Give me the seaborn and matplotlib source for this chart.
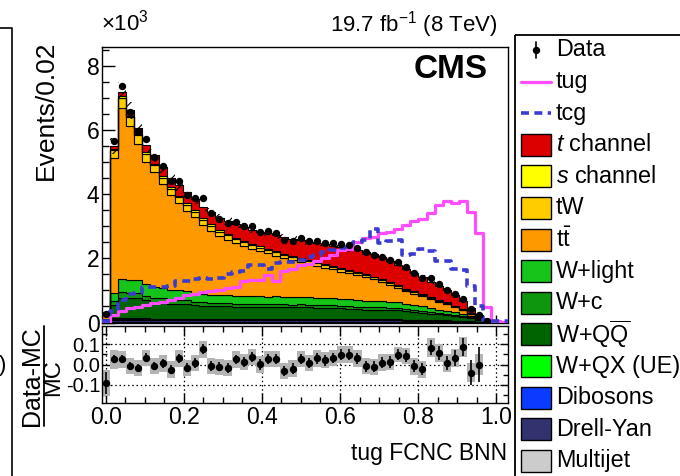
import numpy as np
import pandas as pd
import matplotlib
matplotlib.use("Agg")
import matplotlib.pyplot as plt
from matplotlib.patches import Rectangle
from matplotlib.ticker import MultipleLocator, FixedLocator, FormatStrFormatter
import seaborn as sns

# ---------------------------------------------------------------------------
# Binning of the BNN discriminant (50 bins over the frame range)
# ---------------------------------------------------------------------------
bin_lo, bin_hi, n_bins = -0.0104, 1.0296, 50
edges = np.linspace(bin_lo, bin_hi, n_bins + 1)
bin_edges = list(edges)
centers = 0.5 * (edges[:-1] + edges[1:])
bin_w = edges[1] - edges[0]

# ---------------------------------------------------------------------------
# Event yields per bin, in units of 10^3 events
# ---------------------------------------------------------------------------
t_channel = [0.01, 0.09, 0.14, 0.16, 0.19, 0.22, 0.26, 0.28, 0.30, 0.32,
             0.34, 0.35, 0.36, 0.37, 0.38, 0.40, 0.41, 0.43, 0.44, 0.46,
             0.48, 0.49, 0.51, 0.53, 0.55, 0.57, 0.59, 0.61, 0.63, 0.65,
             0.67, 0.69, 0.70, 0.70, 0.69, 0.67, 0.64, 0.61, 0.58, 0.54,
             0.48, 0.43, 0.39, 0.33, 0.25, 0.16, 0.07, 0.01, 0.0, 0.0]
s_channel = [0.005, 0.04, 0.05, 0.05, 0.05, 0.05, 0.05, 0.05, 0.05, 0.05,
             0.05, 0.05, 0.05, 0.05, 0.05, 0.05, 0.05, 0.05, 0.05, 0.05,
             0.04, 0.04, 0.04, 0.04, 0.04, 0.04, 0.04, 0.04, 0.04, 0.04,
             0.03, 0.03, 0.03, 0.03, 0.03, 0.03, 0.03, 0.03, 0.03, 0.02,
             0.02, 0.02, 0.02, 0.02, 0.01, 0.01, 0.005, 0.0, 0.0, 0.0]
tw = [0.01, 0.24, 0.31, 0.29, 0.26, 0.24, 0.22, 0.21, 0.20, 0.19,
      0.18, 0.17, 0.16, 0.15, 0.14, 0.13, 0.12, 0.12, 0.11, 0.11,
      0.10, 0.10, 0.09, 0.09, 0.09, 0.08, 0.08, 0.08, 0.07, 0.07,
      0.07, 0.06, 0.06, 0.06, 0.05, 0.05, 0.05, 0.04, 0.04, 0.04,
      0.03, 0.03, 0.03, 0.02, 0.02, 0.01, 0.005, 0.0, 0.0, 0.0]
ttbar = [0.155, 4.22, 5.33, 4.78, 4.26, 3.82, 3.57, 3.22, 2.94, 2.71,
         2.51, 2.37, 2.17, 2.00, 1.84, 1.74, 1.64, 1.54, 1.47, 1.40,
         1.35, 1.27, 1.22, 1.15, 1.08, 1.04, 1.00, 0.95, 0.91, 0.86,
         0.81, 0.79, 0.74, 0.67, 0.60, 0.54, 0.46, 0.39, 0.35, 0.33,
         0.29, 0.25, 0.22, 0.17, 0.11, 0.06, 0.03, 0.005, 0.001, 0.0]
w_light = [0.03, 0.27, 0.43, 0.41, 0.40, 0.36, 0.34, 0.33, 0.31, 0.30,
           0.29, 0.27, 0.25, 0.26, 0.26, 0.25, 0.25, 0.25, 0.24, 0.24,
           0.23, 0.24, 0.23, 0.23, 0.23, 0.23, 0.22, 0.22, 0.21, 0.21,
           0.21, 0.20, 0.19, 0.19, 0.19, 0.18, 0.18, 0.17, 0.16, 0.14,
           0.12, 0.11, 0.09, 0.09, 0.07, 0.05, 0.03, 0.004, 0.001, 0.0]
w_c = [0.015, 0.11, 0.17, 0.17, 0.17, 0.15, 0.14, 0.14, 0.13, 0.13,
       0.12, 0.11, 0.11, 0.10, 0.10, 0.10, 0.10, 0.10, 0.10, 0.10,
       0.10, 0.10, 0.10, 0.09, 0.10, 0.09, 0.09, 0.09, 0.09, 0.08,
       0.08, 0.08, 0.08, 0.08, 0.08, 0.07, 0.07, 0.07, 0.06, 0.06,
       0.05, 0.04, 0.04, 0.03, 0.03, 0.02, 0.01, 0.002, 0.001, 0.0]
w_qq = [0.05, 0.42, 0.64, 0.63, 0.62, 0.56, 0.52, 0.50, 0.47, 0.46,
        0.45, 0.42, 0.40, 0.39, 0.38, 0.38, 0.37, 0.37, 0.37, 0.36,
        0.36, 0.36, 0.35, 0.35, 0.35, 0.35, 0.34, 0.33, 0.33, 0.32,
        0.31, 0.30, 0.29, 0.29, 0.28, 0.27, 0.26, 0.26, 0.24, 0.21,
        0.19, 0.16, 0.15, 0.14, 0.11, 0.08, 0.05, 0.007, 0.002, 0.0]
w_qx = [0.005, 0.02, 0.02, 0.02, 0.02, 0.02, 0.02, 0.02, 0.02, 0.02,
        0.02, 0.02, 0.02, 0.02, 0.02, 0.02, 0.02, 0.02, 0.02, 0.02,
        0.02, 0.02, 0.02, 0.02, 0.02, 0.02, 0.02, 0.02, 0.02, 0.02,
        0.02, 0.02, 0.02, 0.02, 0.02, 0.02, 0.02, 0.015, 0.015, 0.015,
        0.015, 0.015, 0.015, 0.015, 0.015, 0.015, 0.007, 0.0, 0.0, 0.0]
dibosons = [0.005, 0.03, 0.03, 0.03, 0.03, 0.03, 0.03, 0.03, 0.03, 0.03,
            0.03, 0.03, 0.03, 0.03, 0.03, 0.03, 0.03, 0.03, 0.03, 0.03,
            0.03, 0.03, 0.03, 0.03, 0.03, 0.03, 0.03, 0.03, 0.03, 0.03,
            0.03, 0.025, 0.025, 0.025, 0.025, 0.025, 0.025, 0.025, 0.025, 0.025,
            0.025, 0.025, 0.025, 0.015, 0.015, 0.015, 0.008, 0.0, 0.0, 0.0]
drell_yan = [0.01, 0.05, 0.05, 0.05, 0.05, 0.05, 0.04, 0.04, 0.04, 0.04,
             0.04, 0.04, 0.04, 0.04, 0.04, 0.04, 0.04, 0.04, 0.04, 0.04,
             0.04, 0.04, 0.04, 0.04, 0.04, 0.04, 0.04, 0.04, 0.04, 0.04,
             0.04, 0.04, 0.04, 0.04, 0.04, 0.04, 0.04, 0.03, 0.03, 0.03,
             0.03, 0.03, 0.03, 0.02, 0.02, 0.02, 0.01, 0.002, 0.0, 0.0]
multijet = [0.005, 0.03, 0.03, 0.03, 0.03, 0.03, 0.03, 0.03, 0.03, 0.03,
            0.03, 0.03, 0.03, 0.03, 0.03, 0.03, 0.03, 0.03, 0.03, 0.03,
            0.03, 0.03, 0.03, 0.03, 0.03, 0.03, 0.03, 0.03, 0.03, 0.03,
            0.03, 0.03, 0.03, 0.03, 0.03, 0.03, 0.03, 0.02, 0.02, 0.02,
            0.02, 0.02, 0.01, 0.01, 0.01, 0.01, 0.005, 0.0, 0.0, 0.0]

# FCNC signal templates
tug = [0.03, 0.22, 0.37, 0.44, 0.49, 0.55, 0.60, 0.65, 0.70, 0.76,
       0.86, 0.90, 0.94, 0.98, 1.02, 1.08, 1.10, 1.30, 1.32, 1.34,
       1.48, 1.30, 1.62, 1.66, 1.80, 1.84, 1.92, 2.00, 2.12, 2.26,
       2.28, 2.52, 2.64, 2.68, 2.80, 2.84, 2.92, 3.05, 3.18, 3.22,
       3.42, 3.68, 3.80, 3.73, 3.78, 3.46, 2.80, 0.48, 0.04, 0.03]
tcg = [0.06, 0.35, 0.70, 0.88, 0.92, 1.10, 1.12, 1.10, 1.14, 1.28,
       1.30, 1.36, 1.38, 1.36, 1.40, 1.52, 1.58, 1.60, 1.78, 1.80,
       1.68, 1.86, 1.90, 1.88, 1.95, 2.05, 2.10, 2.20, 2.25, 2.32,
       2.46, 2.50, 2.58, 2.92, 2.48, 2.55, 2.58, 2.12, 2.14, 2.28,
       2.22, 1.93, 1.92, 1.68, 1.65, 1.13, 0.53, 0.08, 0.04, 0.04]

# Observed data
data = [0.273, 5.658, 7.380, 6.567, 5.983, 5.718, 5.178, 4.874, 4.407, 4.408,
        3.995, 3.891, 3.892, 3.412, 3.234, 3.119, 3.137, 3.019, 3.010, 2.840,
        2.852, 2.791, 2.572, 2.548, 2.627, 2.540, 2.554, 2.491, 2.479, 2.465,
        2.413, 2.333, 2.187, 2.112, 2.055, 1.950, 1.893, 1.730, 1.538, 1.397,
        1.375, 1.196, 1.028, 0.888, 0.718, 0.432, 0.230, 0.060, 0.0, 0.0]

# Relative uncertainty of the prediction and of the data/MC ratio
mc_rel_unc = [0.065, 0.045, 0.042, 0.040, 0.040, 0.040, 0.040, 0.040, 0.040, 0.040,
              0.040, 0.040, 0.042, 0.040, 0.040, 0.040, 0.040, 0.040, 0.040, 0.040,
              0.040, 0.040, 0.040, 0.040, 0.040, 0.040, 0.040, 0.040, 0.040, 0.040,
              0.040, 0.040, 0.040, 0.040, 0.040, 0.040, 0.038, 0.040, 0.042, 0.042,
              0.048, 0.045, 0.045, 0.045, 0.050, 0.045, 0.052, 0.060, 0.060, 0.060]
ratio_err = [0.055, 0.020, 0.020, 0.020, 0.020, 0.021, 0.021, 0.021, 0.022, 0.022,
             0.022, 0.023, 0.024, 0.023, 0.023, 0.024, 0.024, 0.024, 0.025, 0.025,
             0.025, 0.025, 0.025, 0.025, 0.025, 0.026, 0.026, 0.026, 0.026, 0.026,
             0.026, 0.026, 0.027, 0.027, 0.027, 0.028, 0.028, 0.029, 0.030, 0.031,
             0.036, 0.034, 0.036, 0.040, 0.045, 0.060, 0.085, 0.0, 0.0, 0.0]

# Processes, top of the stack first
processes = ["t channel", "s channel", "tW", "ttbar", "W+light", "W+c",
             "W+QQ", "W+QX (UE)", "Dibosons", "Drell-Yan", "Multijet"]
yields = [t_channel, s_channel, tw, ttbar, w_light, w_c,
          w_qq, w_qx, dibosons, drell_yan, multijet]
colors = ["#dd0000", "#ffff00", "#ffcc00", "#ff9900", "#16c41a", "#0f960f",
          "#006400", "#00ff00", "#0a3cff", "#32336e", "#cccccc"]
labels = [r"$\mathit{t}$ channel", r"$\mathit{s}$ channel", "tW",
          r"t$\mathrm{\bar{t}}$", "W+light", "W+c", r"W+Q$\mathrm{\overline{Q}}$",
          "W+QX (UE)", "Dibosons", "Drell-Yan", "Multijet"]
tug_color, tcg_color = "#ff4dff", "#3b3bd1"

# ---------------------------------------------------------------------------
# Style
# ---------------------------------------------------------------------------
sns.set_theme(style="ticks")
plt.rcParams.update({
    "font.family": ["Liberation Sans", "DejaVu Sans"],
    "mathtext.fontset": "custom",
    "mathtext.rm": "Liberation Sans",
    "mathtext.it": "Liberation Sans:italic",
    "mathtext.bf": "Liberation Sans:bold",
    "axes.edgecolor": "black",
    "text.color": "black",
    "xtick.color": "black",
    "ytick.color": "black",
    "hatch.linewidth": 0.8,
    "figure.facecolor": "white",
    "axes.facecolor": "white",
})

W, H = 680, 476
fig = plt.figure(figsize=(W / 100, H / 100), dpi=100)


def px_axes(x0, y0, x1, y1, **kw):
    """Axes placed by a pixel box measured from the top-left corner."""
    return fig.add_axes([x0 / W, 1 - y1 / H, (x1 - x0) / W, (y1 - y0) / H], **kw)


ax = px_axes(101.7, 47, 507.7, 322.5)
rax = px_axes(101.7, 326, 507.7, 403)

# ---------------------------------------------------------------------------
# Stacked background prediction
# ---------------------------------------------------------------------------
stack_df = pd.DataFrame({
    "x": np.tile(centers, len(processes)),
    "w": np.concatenate([np.asarray(y, float) for y in yields]),
    "process": np.repeat(processes, n_bins),
})
sns.histplot(data=stack_df, x="x", weights="w", hue="process",
             hue_order=processes, palette=dict(zip(processes, colors)),
             multiple="stack", bins=bin_edges, element="step", fill=True,
             alpha=1, edgecolor="black", linewidth=0.8, legend=False, ax=ax)

mc_total = np.sum([np.asarray(y, float) for y in yields], axis=0)
mc_unc = np.asarray(mc_rel_unc) * mc_total
lo = np.append(mc_total - mc_unc, (mc_total - mc_unc)[-1])
hi = np.append(mc_total + mc_unc, (mc_total + mc_unc)[-1])
ax.fill_between(edges, lo, hi, step="post", facecolor="none",
                edgecolor="black", hatch="//", linewidth=0, zorder=3)

# Signal templates
sns.histplot(x=centers, weights=tug, bins=bin_edges, element="step", fill=False,
             color=tug_color, linewidth=2.3, ax=ax, zorder=4)
sns.histplot(x=centers, weights=tcg, bins=bin_edges, element="step", fill=False,
             color=tcg_color, linewidth=2.6, linestyle=(0, (2.2, 1.5)),
             ax=ax, zorder=4)

# Data
data_arr = np.asarray(data)
has_data = data_arr > 0
data_stat = np.sqrt(data_arr * 1e3) / 1e3
ax.errorbar(centers[has_data], data_arr[has_data], yerr=data_stat[has_data],
            fmt="o", color="black", ms=4.3, elinewidth=1.2, capsize=0, zorder=6)

ax.set_xlim(bin_lo, bin_hi)
ax.set_ylim(0, 8.6)
ax.set_xlabel("")
ax.set_ylabel("")
ax.xaxis.set_major_locator(MultipleLocator(0.2))
ax.xaxis.set_minor_locator(MultipleLocator(0.05))
ax.yaxis.set_major_locator(MultipleLocator(2))
ax.yaxis.set_minor_locator(MultipleLocator(0.5))
ax.tick_params(axis="both", which="both", direction="in", top=False,
               right=False, labelbottom=False, width=1)
ax.tick_params(axis="y", which="major", length=9.5, labelsize=16.5, pad=1.5)
ax.tick_params(axis="y", which="minor", length=5)
ax.tick_params(axis="x", which="major", length=6)
ax.tick_params(axis="x", which="minor", length=3.5)
for s in ax.spines.values():
    s.set_linewidth(1.0)

# ---------------------------------------------------------------------------
# Ratio panel
# ---------------------------------------------------------------------------
shown = mc_total > 0.1
ratio = data_arr / np.where(mc_total > 0, mc_total, 1.0) - 1.0
rel = np.asarray(mc_rel_unc)
rax.bar(centers[shown], 2 * rel[shown], bottom=ratio[shown] - rel[shown],
        width=bin_w, color="#b4b4b4", linewidth=0, zorder=2)
rax.errorbar(centers[shown], ratio[shown], yerr=np.asarray(ratio_err)[shown],
             fmt="o", color="black", ms=4.3, elinewidth=1.2, capsize=0, zorder=4)

rax.set_xlim(bin_lo, bin_hi)
rax.set_ylim(-0.19, 0.19)
rax.xaxis.set_major_locator(MultipleLocator(0.2))
rax.xaxis.set_minor_locator(MultipleLocator(0.05))
rax.xaxis.set_major_formatter(FormatStrFormatter("%.1f"))
rax.yaxis.set_major_locator(FixedLocator([-0.1, 0.0, 0.1]))
rax.yaxis.set_minor_locator(MultipleLocator(0.05))
rax.yaxis.set_major_formatter(FormatStrFormatter("%.1f"))
rax.grid(True, which="major", color="black", linestyle=(0, (1.2, 2.2)),
         linewidth=0.9, zorder=1)
rax.tick_params(axis="both", which="both", direction="in", top=True,
                right=True, width=1)
rax.tick_params(axis="x", which="major", length=7, labelsize=16.5, pad=2)
rax.tick_params(axis="x", which="minor", length=4)
rax.tick_params(axis="y", which="major", length=6, labelsize=14.5, pad=1.0)
rax.tick_params(axis="y", which="minor", length=3.5)
for s in rax.spines.values():
    s.set_linewidth(1.0)

# ---------------------------------------------------------------------------
# Titles and axis labels
# ---------------------------------------------------------------------------
def ftext(x, y, s, **kw):
    fig.text(x / W, 1 - y / H, s, **kw)


ftext(46, 40, "Events/0.02", rotation=90, ha="center", va="top", fontsize=19)
ftext(101, 31, "×10$^{3}$", ha="left", va="baseline", fontsize=16)
ftext(498, 31, "19.7 fb$^{-1}$ (8 TeV)", ha="right", va="baseline", fontsize=16)
ftext(488, 54, "CMS", ha="right", va="top", fontsize=24, fontweight="bold")
ftext(507, 460, "tug FCNC BNN", ha="right", va="baseline", fontsize=16.5)
ftext(32, 376, "Data-MC", rotation=90, ha="center", va="center", fontsize=18)
ftext(53, 378, "MC", rotation=90, ha="center", va="center", fontsize=17)

# ---------------------------------------------------------------------------
# Legend and frame pieces, laid out in pixel coordinates
# ---------------------------------------------------------------------------
ov = fig.add_axes([0, 0, 1, 1], facecolor="none", zorder=10)
ov.set_xlim(0, W)
ov.set_ylim(H, 0)
ov.axis("off")

# fraction bar of the ratio-panel title
ov.plot([43.5, 43.5], [326, 426], color="black", lw=1.3)

# neighbouring frame edge on the far left
ov.plot([0, 11.5, 11.5], [28, 28, H + 5], color="black", lw=1.2, clip_on=True)
ov.text(3, 366, ")", fontsize=16, ha="center", va="center")

ov.add_patch(Rectangle((514.5, 35), 300, 500, fill=False, lw=1.3,
                       ec="black"))
row0, row_step = 50, 31.6
sx0, sx1, tx = 521, 551, 556
legend_fs = 16.8

# Data entry
y = row0
ov.plot([536, 536], [y - 8, y + 8], color="black", lw=1.2)
ov.plot([536], [y], "o", color="black", ms=4.3)
ov.text(tx, y, "Data", va="center", ha="left", fontsize=legend_fs)
# signal entries
y = row0 + row_step
ov.plot([sx0, sx1], [y, y], color=tug_color, lw=2.3)
ov.text(tx, y, "tug", va="center", ha="left", fontsize=legend_fs)
y = row0 + 2 * row_step
ov.plot([sx0, sx1], [y, y], color=tcg_color, lw=2.6, linestyle=(0, (2.2, 1.5)))
ov.text(tx, y, "tcg", va="center", ha="left", fontsize=legend_fs)
# background entries
for i, (lab, col) in enumerate(zip(labels, colors)):
    y = row0 + (3 + i) * row_step
    ov.add_patch(Rectangle((sx0, y - 11), sx1 - sx0, 22, facecolor=col,
                           edgecolor="black", lw=1.0))
    ov.text(tx, y, lab, va="center", ha="left", fontsize=legend_fs)

fig.savefig("out.png", dpi=100)
